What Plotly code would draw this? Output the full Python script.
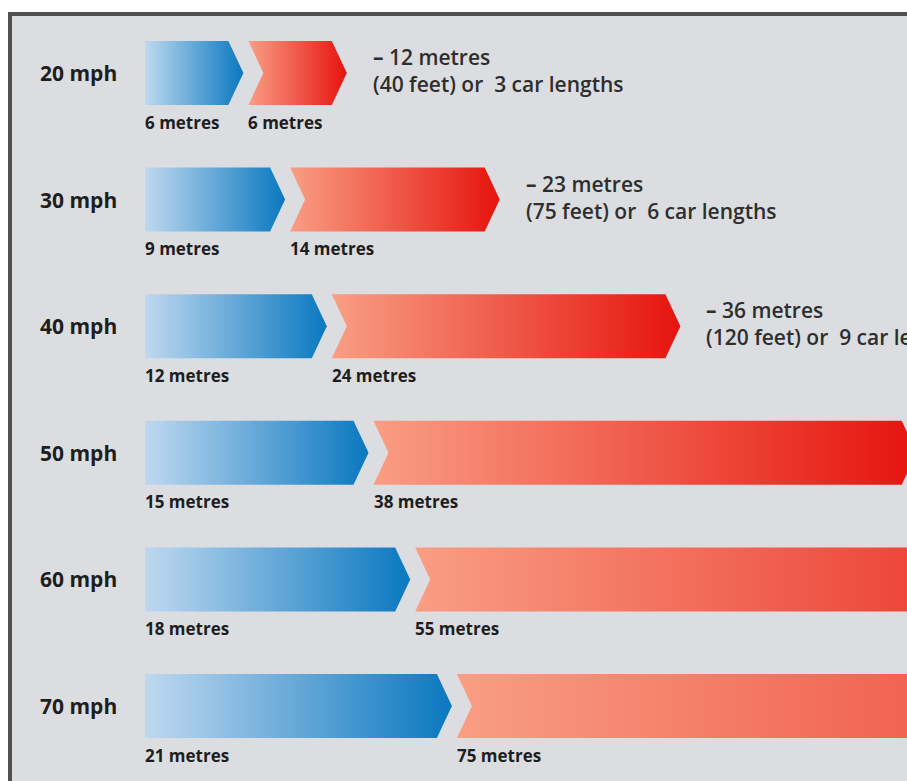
import plotly.graph_objects as go

# ---- data ----
speeds = ["20 mph", "30 mph", "40 mph", "50 mph", "60 mph", "70 mph"]
thinking_m = [6, 9, 12, 15, 18, 21]
braking_m = [6, 14, 24, 38, 55, 75]
total_m = [12, 23, 36, 53, 73, 96]
total_ft = [40, 75, 120, 175, 240, 315]
car_lengths = [3, 6, 9, 13, 18, 24]

# ---- geometry (in axis units) ----
PX_PER_M = 13.9
TIP = 15 / PX_PER_M          # arrow point depth
GAP = 20 / PX_PER_M          # gap between blue body end and red start
ROW_PX = 126.6
HALF = 32 / ROW_PX           # bar half-height in row units
W, H = 907, 781

BLUE_SCALE = [[0, "#bfd8f0"], [1, "#0a78c0"]]
RED_SCALE = [[0, "#f99e84"], [1, "#e6140e"]]

fig = go.Figure()
ann = []
for i, sp in enumerate(speeds):
    c = i
    t = thinking_m[i]
    b = braking_m[i]
    # blue arrow (thinking distance)
    fig.add_trace(go.Scatter(
        x=[0, t, t + TIP, t, 0, 0],
        y=[c - HALF, c - HALF, c, c + HALF, c + HALF, c - HALF],
        mode="lines", fill="toself", line=dict(width=0),
        fillgradient=dict(type="horizontal", colorscale=BLUE_SCALE),
        hoverinfo="skip", showlegend=False))
    # red chevron (braking distance)
    s = t + GAP
    e = s + b
    fig.add_trace(go.Scatter(
        x=[s, e, e + TIP, e, s, s + TIP, s],
        y=[c - HALF, c - HALF, c, c + HALF, c + HALF, c, c - HALF],
        mode="lines", fill="toself", line=dict(width=0),
        fillgradient=dict(type="horizontal", colorscale=RED_SCALE),
        hoverinfo="skip", showlegend=False))

    # speed label
    ann.append(dict(x=-28 / PX_PER_M, y=c, text=sp, xanchor="right",
                    yanchor="middle", showarrow=False, xshift=2,
                    font=dict(family="Open Sans", size=21, weight=700, color="#1e1e1e")))
    # metre labels under bars
    ann.append(dict(x=0, y=c + 49 / ROW_PX, text=f"{t} metres", xanchor="left",
                    yanchor="middle", showarrow=False, xshift=-2,
                    font=dict(family="Open Sans", size=17, weight=700, color="#1e1e1e")))
    ann.append(dict(x=s, y=c + 49 / ROW_PX, text=f"{b} metres", xanchor="left",
                    yanchor="middle", showarrow=False, xshift=-2,
                    font=dict(family="Open Sans", size=17, weight=700, color="#1e1e1e")))
    # total text
    tx = e + TIP + 26 / PX_PER_M
    ann.append(dict(x=tx, y=c - 16 / ROW_PX, text=f"<b>–</b> {total_m[i]} metres",
                    xanchor="left", yanchor="middle", showarrow=False, xshift=-2,
                    font=dict(family="Open Sans", size=21, weight=600, color="#2e2e2e")))
    ann.append(dict(x=tx, y=c + 11 / ROW_PX,
                    text=f"({total_ft[i]} feet) or  {car_lengths[i]} car lengths",
                    xanchor="left", yanchor="middle", showarrow=False, xshift=-2,
                    font=dict(family="Open Sans", size=21, weight=600, color="#2e2e2e")))

fig.update_layout(
    width=W, height=H,
    margin=dict(l=0, r=0, t=0, b=0),
    paper_bgcolor="white",
    plot_bgcolor="rgba(0,0,0,0)",
    xaxis=dict(range=[-145 / PX_PER_M, (W - 145) / PX_PER_M], visible=False, fixedrange=True),
    yaxis=dict(range=[(H - 73) / ROW_PX, -73 / ROW_PX], visible=False, fixedrange=True),
    shapes=[dict(type="rect", xref="paper", yref="paper",
                 x0=10 / W, x1=1.2, y0=-0.2, y1=1 - 14 / H,
                 fillcolor="#dcdde0", line=dict(color="#505050", width=4),
                 layer="below")],
    annotations=ann,
)

fig.write_html("out.html")
